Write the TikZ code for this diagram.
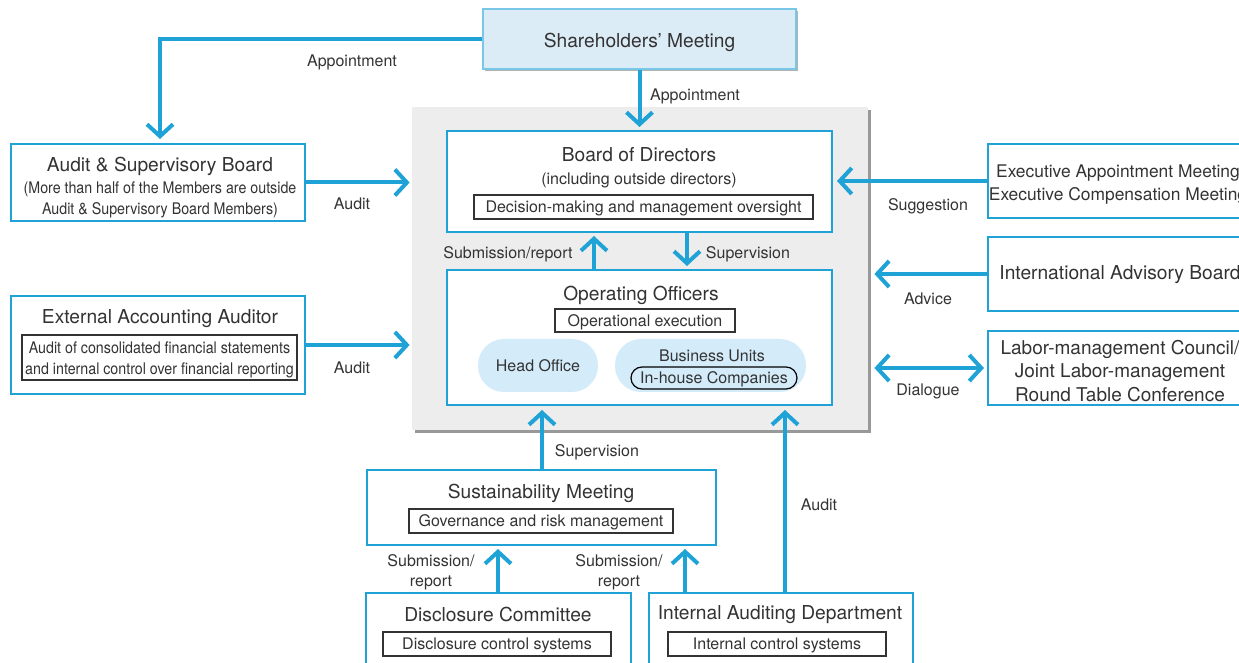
\documentclass[tikz,border=0pt]{standalone}
\usepackage{fontspec}
\setmainfont{TeX Gyre Heros}
\newfontfamily\narrowfont[FakeStretch=0.89]{TeX Gyre Heros}
\usetikzlibrary{arrows.meta,shadows}
\definecolor{linkblue}{RGB}{31,162,214}
\definecolor{paleblue}{RGB}{220,236,247}
\definecolor{bubble}{RGB}{212,236,250}
\definecolor{panel}{RGB}{237,237,237}
\definecolor{ink}{RGB}{51,51,51}

\begin{document}
\begin{tikzpicture}
  [x=0.5pt,y=-0.5pt,every node/.style={text=ink,inner sep=0pt}]
  \tikzstyle{box} = [draw=linkblue,line width=1pt,fill=white,rectangle]
  \tikzstyle{tag} = [draw=ink,line width=0.6pt,rectangle,text height=6.4pt,text depth=0.4pt,font=\fontsize{8}{10}\selectfont]
  \tikzstyle{title} = [font=\fontsize{9.6}{11.7}\selectfont]
  \tikzstyle{lbl} = [font=\fontsize{8}{10}\selectfont,align=center]
  \tikzstyle{narrow} = [font=\narrowfont\fontsize{8}{10.5}\selectfont,align=center]
  \tikzstyle{arr} = [draw=linkblue,line width=2pt,-{Straight Barb[length=6pt,width=13pt]}]
  \tikzstyle{arrboth} = [draw=linkblue,line width=2pt,{Straight Barb[length=6pt,width=13pt]}-{Straight Barb[length=6pt,width=13pt]}]

  \clip (0,0) rectangle (1239,663);

  % grey area round the board and the officers
  \node (panel) [fill=panel,minimum width=228pt,minimum height=161.5pt,
    drop shadow={shadow xshift=1.5pt,shadow yshift=-1.5pt,fill=black!40,opacity=1}] at (640,268.5) {};

  \node (sh) [box,fill=paleblue,draw=linkblue!60,minimum width=156.5pt,minimum height=30pt,
    drop shadow={shadow xshift=1pt,shadow yshift=-1pt,fill=black!30,opacity=1}] at (639.5,39) {};
  \node (sht) [title] at (639.5,42) {Shareholders' Meeting};

  % board of directors
  \node (bod) [box,minimum width=192.5pt,minimum height=50.5pt] at (639.5,181.5) {};
  \node (bodt) [title] at (639,155) {Board of Directors};
  \node (bods) [lbl] at (639,180) {(including outside directors)};
  \node (bodx) [tag,minimum width=169.5pt,minimum height=12pt] at (643.5,207) {Decision-making and management oversight};

  % operating officers
  \node (oo) [box,minimum width=192.5pt,minimum height=67.5pt] at (639.5,337.5) {};
  \node (oot) [title] at (641,295) {Operating Officers};
  \node (oox) [tag,minimum width=90pt,minimum height=11.5pt] at (645,320.5) {Operational execution};
  \node (ho) [lbl,fill=bubble,rounded corners=13pt,minimum width=60pt,minimum height=26.5pt] at (538,365.5) {Head Office};
  \node (bu) [fill=bubble,rounded corners=13pt,minimum width=95.5pt,minimum height=26.5pt] at (710.5,365.5) {};
  \node (but) [lbl] at (712,356) {Business Units};
  \node (ihc) [lbl,draw=black,line width=0.6pt,rounded corners=5.5pt,text height=6.4pt,text depth=0.4pt,
    minimum width=83pt,minimum height=11pt] at (714,378) {In-house Companies};

  % left side
  \node (asb) [box,minimum width=147pt,minimum height=38.5pt] at (158,182.5) {};
  \node (asbt) [title] at (160,166) {Audit \& Supervisory Board};
  \node (asbs) [narrow] at (160,199.5) {(More than half of the Members are outside\\Audit \& Supervisory Board Members)};

  \node (eaa) [box,minimum width=147pt,minimum height=49pt] at (158,345) {};
  \node (eaat) [title] at (160,319) {External Accounting Auditor};
  \node (eaax) [tag,narrow,text height=17pt,text depth=0.4pt,minimum width=137.5pt,minimum height=22.5pt] at (159.5,357.5)
    {Audit of consolidated financial statements\\and internal control over financial reporting};

  % right side
  \node (exec) [box,minimum width=131pt,minimum height=37pt] at (1119,181) {};
  \node (exect) [align=center,font=\fontsize{8.7}{11.5}\selectfont] at (1118,184.5) {Executive Appointment Meeting\\Executive Compensation Meeting};
  \node (iab) [box,minimum width=131pt,minimum height=37pt] at (1119,274) {};
  \node (iabt) [title] at (1120,275) {International Advisory Board};
  \node (labor) [box,minimum width=131pt,minimum height=37pt] at (1119,368) {};
  \node (labort) [align=center,font=\fontsize{9.5}{11.7}\selectfont] at (1120,371) {Labor-management Council/\\Joint Labor-management\\Round Table Conference};

  % bottom
  \node (sus) [box,minimum width=174.5pt,minimum height=37.5pt] at (541.5,507.5) {};
  \node (sust) [title] at (541,493) {Sustainability Meeting};
  \node (susx) [tag,minimum width=132pt,minimum height=12pt] at (541,521) {Governance and risk management};

  \node (dc) [box,minimum width=132.5pt,minimum height=48.5pt] at (498.5,641.5) {};
  \node (dct) [title] at (498,615) {Disclosure Committee};
  \node (dcx) [tag,minimum width=114pt,minimum height=12pt] at (497,644) {Disclosure control systems};

  \node (iad) [box,minimum width=132pt,minimum height=48.5pt] at (781,641.5) {};
  \node (iadt) [title] at (780,615) {Internal Auditing Department};
  \node (iadx) [tag,minimum width=109pt,minimum height=12pt] at (777,644) {Internal control systems};

  % columns for the vertical arrows
  \coordinate (xasb) at (160,0);
  \coordinate (xsub) at (594,0);
  \coordinate (xsup) at (687,0);
  \coordinate (xsus) at (542,0);
  \coordinate (xaud) at (785,0);
  \coordinate (xdc) at (498,0);
  \coordinate (xiad) at (685,0);

  \draw[arr,shorten >=2pt] (sh.west) -| (xasb |- asb.north);
  \draw[arr,shorten >=1.5pt] (sh.south) -- (bod.north);
  \draw[arr,shorten >=1pt] (asb.east) -- (asb.east -| panel.west);
  \draw[arr,shorten >=1pt] (eaa.east) -- (eaa.east -| panel.west);
  \draw[arr,shorten >=2pt] (exec.west) -- (exec.west -| bod.east);
  \draw[arr,shorten >=3pt] (iab.west) -- (iab.west -| panel.east);
  \draw[arrboth,shorten <=1.5pt,shorten >=3pt] (labor.west) -- (labor.west -| panel.east);
  \draw[arr,shorten >=1.5pt] (oo.north -| xsub) -- (bod.south -| xsub);
  \draw[arr,shorten >=1.5pt] (bod.south -| xsup) -- (oo.north -| xsup);
  \draw[arr,shorten >=2pt] (sus.north -| xsus) -- (oo.south -| xsus);
  \draw[arr,shorten >=2pt] (iad.north -| xaud) -- (oo.south -| xaud);
  \draw[arr,shorten >=1.5pt] (dc.north -| xdc) -- (sus.south -| xdc);
  \draw[arr,shorten >=1.5pt] (iad.north -| xiad) -- (sus.south -| xiad);

\foreach \x/\y/\txt [count=\i] in {352/62/Appointment,695/96/Appointment,352/204/Audit,352/368/Audit,
    928/206/Suggestion,928/299/Advice,928/391/Dialogue,508/254/{Submission/report},748/254/Supervision,
    597/452/Supervision,819/505/Audit,431/572/{Submission/\\report},619/572/{Submission/\\report}}
   \node (lbl\i) [lbl] at (\x,\y) {\txt};

\end{tikzpicture}
\end{document}
